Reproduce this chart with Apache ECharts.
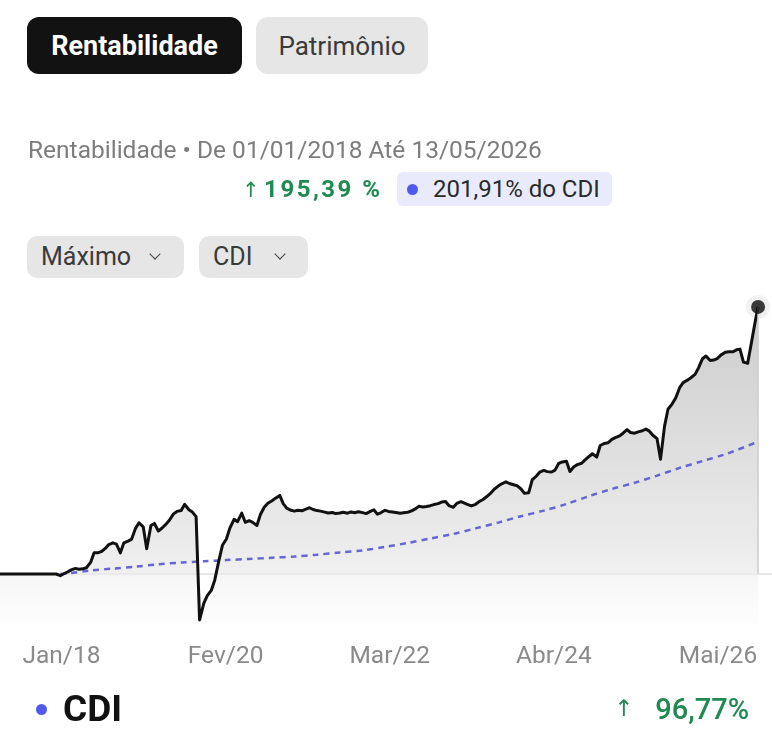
<!DOCTYPE html>
<html>
<head>
<meta charset="utf-8">
<script src="https://cdn.jsdelivr.net/npm/echarts@6/dist/echarts.min.js"></script>
<style>
  html, body { margin:0; padding:0; background:#ffffff; }
  body { width:772px; height:746px; position:relative; overflow:hidden; font-family: Roboto, "Noto Sans", "DejaVu Sans", sans-serif; }
  #chart { position:absolute; left:0; top:0; width:772px; height:746px; }
  .ov { position:absolute; z-index:2; box-sizing:border-box; white-space:nowrap; }
  .btn { display:flex; align-items:center; justify-content:center; border-radius:12px; }
  .b1 { left:27px; top:17px; width:215px; height:57px; background:#121212; color:#fff; font-size:27px; font-weight:700; }
  .b2 { left:256px; top:17px; width:172px; height:57px; background:#e6e6e6; color:#3a3a3a; font-size:26px; }
  .sub { left:28px; top:134px; color:#7d7d7d; font-size:24.5px; line-height:32px; }
  .pct { left:242px; top:173px; color:#1f8a52; font-size:24px; font-weight:700; letter-spacing:2.5px; line-height:32px; }
  .pct .ar { font-weight:400; margin-right:2px; font-size:21px; }
  .chip { left:397px; top:172px; width:215px; height:34px; background:#e9eafb; border-radius:6px; color:#2a2a2a; font-size:24px; line-height:34px; padding-left:36px; }
  .dot { position:absolute; border-radius:50%; background:#4f5bef; }
  .dd { top:236px; height:42px; background:#e6e6e6; border-radius:10px; color:#3a3a3a; font-size:25px; line-height:42px; padding-left:14px; }
  .d1 { left:27px; width:157px; }
  .d2 { left:199px; width:109px; }
  .chev { position:absolute; top:14px; width:7px; height:7px; border-right:1.8px solid #444; border-bottom:1.8px solid #444; transform:rotate(45deg); }
  .fl { left:63px; top:688px; color:#111; font-size:37px; font-weight:700; line-height:42px; }
  .fr { right:23px; top:688px; color:#1f8a52; font-size:29px; font-weight:500; line-height:42px; }
  .fr .ar { font-size:23px; font-weight:400; margin-right:22px; position:relative; top:-3px; }
</style>
</head>
<body>
<div id="chart"></div>

<div class="ov btn b1">Rentabilidade</div>
<div class="ov btn b2">Patrimônio</div>
<div class="ov sub">Rentabilidade • De 01/01/2018 Até 13/05/2026</div>
<div class="ov pct"><span class="ar">↑</span>195,39 %</div>
<div class="ov chip"><span class="dot" style="left:10px;top:12px;width:11px;height:11px;"></span>201,91% do CDI</div>
<div class="ov dd d1">Máximo<span class="chev" style="left:124px;"></span></div>
<div class="ov dd d2">CDI<span class="chev" style="left:77px;"></span></div>
<div class="ov dot" style="left:36px;top:704px;width:11px;height:11px;"></div>
<div class="ov fl">CDI</div>
<div class="ov fr"><span class="ar">↑</span>96,77%</div>

<script>
// ---- Data ----
// Fund cumulative return (%) sampled on the 1st and 15th of each month, from 01/01/2018 to 13/05/2026
const fundValues = [
  0,0,0,0,0,0,0,0,0,0,0,0,0,0,0,0,
  -1.2,0.2,1.6,3.0,4.1,3.5,3.8,4.6,8.5,15.5,
  15.6,16.5,18.7,21.5,22.8,21.9,15.5,22.8,24.0,25.5,
  33.4,37.5,34.5,18.5,35.5,37.0,31.5,33.5,36.5,39.5,
  44.0,45.8,46.5,51.0,47.0,45.3,42.0,-33.6,-21.5,-15.8,
  -12.0,-4.5,10.0,21.0,25.6,33.5,40.0,38.3,44.5,37.8,
  39.0,37.8,35.5,43.5,49.0,51.8,53.6,55.5,57.5,51.5,
  48.2,46.8,46.0,46.6,46.2,47.3,48.5,47.2,46.4,46.0,
  45.3,44.6,45.0,44.2,44.6,45.2,44.5,45.4,44.8,45.6,
  44.9,44.2,45.8,47.0,43.8,44.8,46.6,45.8,45.4,45.0,
  44.4,44.8,45.2,46.0,47.6,49.5,49.0,49.4,50.0,50.8,
  51.5,52.6,53.0,50.0,48.8,51.6,52.9,51.8,50.8,49.8,
  51.0,53.0,54.5,56.5,59.2,62.0,64.3,66.0,67.4,66.2,
  65.3,64.6,62.2,59.0,59.5,68.8,71.5,74.5,75.8,74.9,
  74.6,76.0,81.0,82.0,82.5,75.0,78.5,80.0,81.0,83.5,
  86.0,88.0,85.5,94.0,95.5,96.0,98.5,99.8,101.0,103.0,
  105.6,103.5,103.0,104.0,104.8,106.0,104.5,101.5,99.0,84.0,
  108.0,120.5,124.5,128.8,136.3,140.0,141.8,143.6,146.0,150.8,
  157.5,159.5,156.2,156.5,157.8,160.3,162.2,162.6,162.6,164.0,
  164.5,155.0,154.1,168.0,184.4,195.39
];

// CDI benchmark cumulative return (%)
const cdiDates = [
  '2018-09-01','2018-10-01','2019-01-01','2019-04-01','2019-07-01','2019-10-01',
  '2020-01-01','2020-04-01','2020-07-01','2020-10-01','2021-01-01','2021-04-01',
  '2021-07-01','2021-10-01','2022-01-01','2022-04-01','2022-07-01','2022-10-01',
  '2023-01-01','2023-04-01','2023-07-01','2023-10-01','2024-01-01','2024-04-01',
  '2024-07-01','2024-10-01','2025-01-01','2025-04-01','2025-07-01','2025-10-01',
  '2026-01-01','2026-05-13'
];
const cdiValues = [
  0,0.5,2.6,4.0,5.4,7.1,
  8.4,9.3,10.2,11.0,11.9,12.8,
  14.1,15.8,17.3,19.8,22.7,26.0,
  29.3,33.4,37.6,42.3,46.4,51.2,
  57.0,62.2,66.8,72.0,77.6,82.6,
  87.6,96.77
];

// Axis tick labels
const tickLabels = ['Jan/18','Fev/20','Mar/22','Abr/24','Mai/26'];

// semimonthly dates (1st and 15th) up to 2026-05-01, then the final date 2026-05-13
const fundDates = [];
for (let y = 2018; y <= 2026; y++) {
  for (let m = 1; m <= 12; m++) {
    const mm = String(m).padStart(2,'0');
    if (y === 2026 && m > 5) break;
    fundDates.push(y + '-' + mm + '-01');
    if (y === 2026 && m === 5) break;
    fundDates.push(y + '-' + mm + '-15');
  }
}
fundDates.push('2026-05-13');

const fundData = fundDates.map((d, i) => [d, fundValues[i]]);
const cdiData = cdiDates.map((d, i) => [d, cdiValues[i]]);
const lastPoint = fundData[fundData.length - 1];

const chart = echarts.init(document.getElementById('chart'), null, { renderer: 'canvas' });
chart.setOption({
  animation: false,
  backgroundColor: '#ffffff',
  grid: [
    { left: 0, right: 0, top: 300.6, height: 324, containLabel: false },
    { left: 61.5, right: 54, top: 628, height: 10, containLabel: false }
  ],
  xAxis: [
    {
      type: 'time', gridIndex: 0,
      min: '2018-01-01', max: '2026-07-08',
      axisLabel: { show: false }, axisTick: { show: false }, splitLine: { show: false },
      axisLine: { show: true, onZero: true, lineStyle: { color: '#e0e0e0', width: 1.5 } }
    },
    {
      type: 'category', gridIndex: 1, data: tickLabels, boundaryGap: false,
      axisLine: { show: false }, axisTick: { show: false }, splitLine: { show: false },
      axisLabel: { color: '#8a8a8a', fontSize: 24.5, margin: 6, interval: 0,
        fontFamily: 'Roboto, "Noto Sans", sans-serif' }
    }
  ],
  yAxis: [
    { type: 'value', gridIndex: 0, min: -37, max: 200, show: false },
    { type: 'value', gridIndex: 1, show: false }
  ],
  series: [
    {
      name: 'Rentabilidade (área)', type: 'line', xAxisIndex: 0, yAxisIndex: 0,
      data: fundData, showSymbol: false, symbol: 'none', z: 1, silent: true,
      lineStyle: { width: 0, opacity: 0 },
      areaStyle: {
        origin: 'start',
        color: new echarts.graphic.LinearGradient(0, 0, 0, 1, [
          { offset: 0, color: '#b6b6b6' },
          { offset: 0.35, color: '#cbcbcb' },
          { offset: 0.7, color: '#e0e0e0' },
          { offset: 0.84, color: '#eaeaea' },
          { offset: 0.85, color: '#f3f3f3' },
          { offset: 1, color: '#fdfdfd' }
        ])
      },
      markLine: {
        silent: true, symbol: 'none', label: { show: false },
        lineStyle: { color: '#cdcdcd', width: 1.5, type: 'solid' },
        data: [[ { coord: lastPoint }, { coord: [lastPoint[0], 0] } ]]
      }
    },
    {
      name: 'CDI', type: 'line', xAxisIndex: 0, yAxisIndex: 0,
      data: cdiData, showSymbol: false, symbol: 'none', smooth: 0.3, z: 2,
      lineStyle: { color: '#6565d4', width: 2.5, type: [6, 5] }
    },
    {
      name: 'Rentabilidade', type: 'line', xAxisIndex: 0, yAxisIndex: 0,
      data: fundData, showSymbol: false, symbol: 'none', z: 3,
      lineStyle: { color: '#111111', width: 3, join: 'round' }
    },
    {
      type: 'scatter', xAxisIndex: 0, yAxisIndex: 0, z: 4,
      data: [lastPoint], symbolSize: 24,
      itemStyle: { color: 'rgba(0,0,0,0.07)' }, silent: true
    },
    {
      type: 'scatter', xAxisIndex: 0, yAxisIndex: 0, z: 5,
      data: [lastPoint], symbolSize: 14,
      itemStyle: { color: '#0d0d0d' }, silent: true
    }
  ]
});
</script>
</body>
</html>
